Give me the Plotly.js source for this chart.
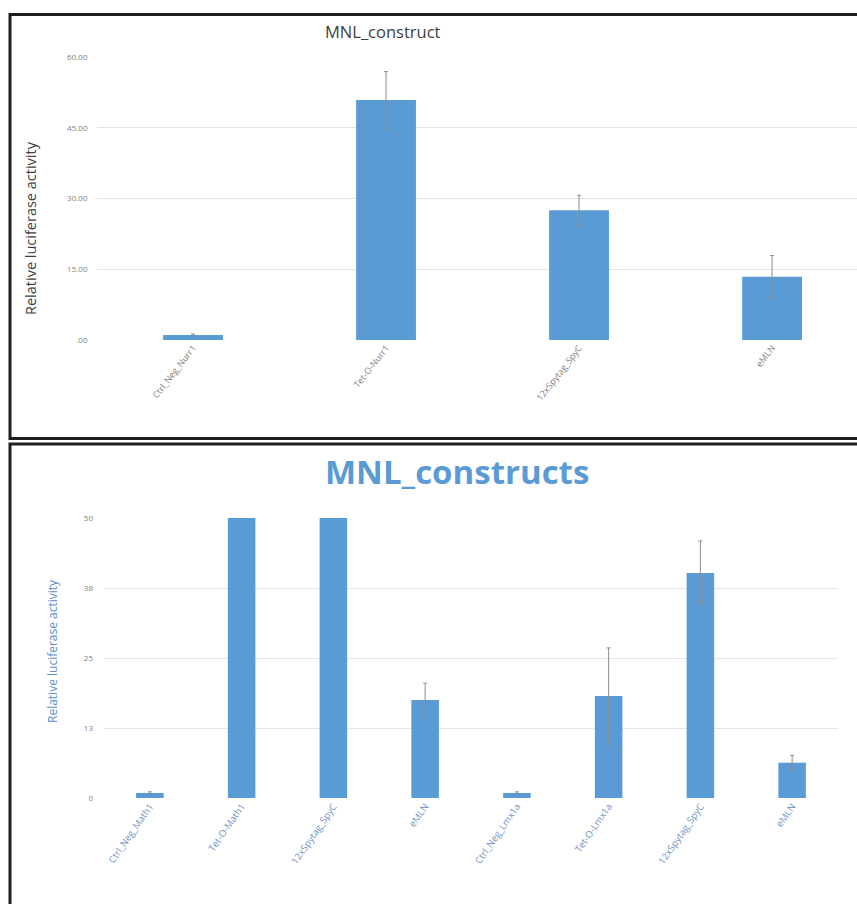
<!DOCTYPE html>
<html>
<head>
<meta charset="utf-8">
<script src="https://cdn.plot.ly/plotly-3.0.1.min.js"></script>
<style>html,body{margin:0;padding:0;background:#fff;}#chart{width:857px;height:904px;}</style>
</head>
<body>
<div id="chart"></div>
<script>
// ---- Top chart data ----
const topCategories = ["Ctrl_Neg_Nurr1", "Tet-O-Nurr1", "12xSpytag_SpyC", "eMLN"];
const topValues = [1.05, 50.9, 27.5, 13.4];
const topErrors = [0.2, 6.0, 3.2, 4.5];
const topTickVals = [0, 15, 30, 45, 60];
const topTickText = [".00", "15.00", "30.00", "45.00", "60.00"];
const topTitle = "MNL_construct";

// ---- Bottom chart data ----
const botCategories = ["Ctrl_Neg_Math1", "Tet-O-Math1", "12xSpytag_SpyC", "eMLN",
                       "Ctrl_Neg_Lmx1a", "Tet-O-Lmx1a", "12xSpytag_SpyC", "eMLN"];
const botValues = [0.9, 62, 60, 17.5, 0.9, 18.2, 40.2, 6.3];
const botErrors = [0.2, 6, 6, 3.0, 0.2, 8.6, 5.7, 1.3];
const botTickVals = [0, 12.5, 25, 37.5, 50];
const botTickText = ["0", "13", "25", "38", "50"];
const botTitle = "MNL_constructs";
const yTitle = "Relative luciferase activity";

const W = 857, H = 904;
const px = v => v / W;
const py = v => 1 - v / H;
const barColor = "#5b9bd5";
const errColor = "#8c8c8c";
const FONT = "Open Sans";

const traces = [
  {
    type: "bar",
    x: topCategories.map((_, i) => i),
    y: topValues,
    width: 0.31,
    marker: {color: barColor},
    error_y: {type: "data", array: topErrors, visible: true, color: errColor, thickness: 1, width: 2},
    xaxis: "x", yaxis: "y",
    hoverinfo: "none"
  },
  {
    type: "bar",
    x: botCategories.map((_, i) => i),
    y: botValues,
    width: 0.3,
    marker: {color: barColor},
    error_y: {type: "data", array: botErrors, visible: true, color: errColor, thickness: 1, width: 2},
    xaxis: "x2", yaxis: "y2",
    hoverinfo: "none"
  }
];

const layout = {
  width: W, height: H,
  margin: {l: 0, r: 0, t: 0, b: 0},
  paper_bgcolor: "#ffffff",
  plot_bgcolor: "rgba(0,0,0,0)",
  showlegend: false,
  font: {family: FONT, color: "#595959"},
  xaxis: {
    domain: [px(96.5), 1],
    range: [-0.5, 3.44],
    tickvals: topCategories.map((_, i) => i),
    ticktext: topCategories,
    tickangle: -52,
    tickfont: {size: 9, color: "#7f7f7f"},
    showgrid: false, zeroline: false, showline: false, ticks: "",
    anchor: "y"
  },
  yaxis: {
    domain: [py(340), py(57)],
    range: [0, 60],
    tickvals: topTickVals,
    ticktext: topTickText,
    tickfont: {size: 8, color: "#7f7f7f"},
    gridcolor: "#e3e3e3", gridwidth: 1,
    zeroline: false, showline: false, ticks: "",
    ticklabelstandoff: 8,
    anchor: "x"
  },
  xaxis2: {
    domain: [px(104), px(838)],
    range: [-0.5, 7.5],
    tickvals: botCategories.map((_, i) => i),
    ticktext: botCategories,
    tickangle: -55,
    tickfont: {size: 9.5, color: "#6f93c6"},
    showgrid: false, zeroline: false, showline: false, ticks: "",
    anchor: "y2"
  },
  yaxis2: {
    domain: [py(798), py(518)],
    range: [0, 50],
    tickvals: botTickVals,
    ticktext: botTickText,
    tickfont: {size: 8, color: "#7f7f7f"},
    gridcolor: "#e6e6e6", gridwidth: 1,
    zeroline: false, showline: false, ticks: "",
    ticklabelstandoff: 10,
    anchor: "x2"
  },
  annotations: [
    {text: topTitle, xref: "paper", yref: "paper", x: px(383), y: py(31),
     xanchor: "center", yanchor: "middle", showarrow: false,
     font: {family: FONT, size: 16.5, color: "#404040"}},
    {text: yTitle, xref: "paper", yref: "paper", x: px(30), y: py(228),
     xanchor: "center", yanchor: "middle", showarrow: false, textangle: -90,
     font: {family: FONT, size: 14.5, color: "#404040"}},
    {text: "<b>" + botTitle + "</b>", xref: "paper", yref: "paper", x: px(457), y: py(471),
     xanchor: "center", yanchor: "middle", showarrow: false,
     font: {family: FONT, size: 33, color: "#5b9bd5"}},
    {text: yTitle, xref: "paper", yref: "paper", x: px(52), y: py(651),
     xanchor: "center", yanchor: "middle", showarrow: false, textangle: -90,
     font: {family: FONT, size: 12, color: "#5b8fcf"}}
  ],
  shapes: [
    {type: "rect", xref: "paper", yref: "paper", x0: px(10), x1: px(880), y0: py(438.5), y1: py(14.5),
     line: {color: "#1e1e1e", width: 3}, fillcolor: "rgba(0,0,0,0)"},
    {type: "rect", xref: "paper", yref: "paper", x0: px(10), x1: px(880), y0: py(930), y1: py(444),
     line: {color: "#1e1e1e", width: 3}, fillcolor: "rgba(0,0,0,0)"}
  ]
};

Plotly.newPlot("chart", traces, layout, {staticPlot: true, displayModeBar: false});
</script>
</body>
</html>
